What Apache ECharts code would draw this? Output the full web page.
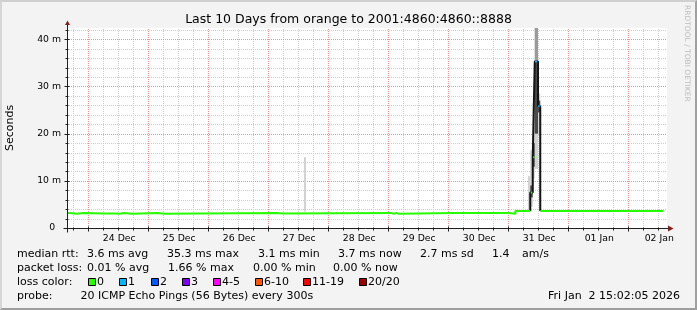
<!DOCTYPE html>
<html>
<head>
<meta charset="utf-8">
<script src="https://cdn.jsdelivr.net/npm/echarts@6.0.0/dist/echarts.min.js"></script>
<style>
  html, body { margin: 0; padding: 0; background: #f3f3f3; }
  #wrap { position: relative; width: 697px; height: 310px; }
  #chart { position: absolute; left: 0; top: 0; width: 697px; height: 310px; }
  #frame { position: absolute; left: 0; top: 0; width: 697px; height: 310px; box-sizing: border-box;
           border-top: 2px solid #cfcfcf; border-left: 2px solid #d6d6d6;
           border-right: 2px solid #a0a0a0; border-bottom: 2px solid #9e9e9e; pointer-events: none; }
</style>
</head>
<body>
<div id="wrap"><div id="chart"></div><div id="frame"></div></div>
<script>
// ---------- data (hours are counted from 24 Dec 00:00; values in ms) ----------
const dayLabels   = ['24 Dec','25 Dec','26 Dec','27 Dec','28 Dec','29 Dec','30 Dec','31 Dec','01 Jan','02 Jan'];
const labelHours  = [12, 36, 60, 84, 108, 132, 156, 180, 204, 228];
const majorXHours = [0, 24, 48, 72, 96, 120, 144, 168, 192, 216];
const minorXHours = [-6, 6, 12, 18, 30, 36, 42, 54, 60, 66, 78, 84, 90, 102, 108, 114, 126, 132, 138,
                     150, 156, 162, 174, 180, 186, 198, 204, 210, 222, 228];
const yTicks      = [0, 10, 20, 30, 40];
const yLabels     = ['0  ', '10 m', '20 m', '30 m', '40 m'];
const yMinor      = [2, 4, 6, 8, 12, 14, 16, 18, 22, 24, 26, 28, 32, 34, 36, 38, 42];

// median rtt (step line), [hour, ms]
const medianBefore = [
  [-8.5, 3.2], [-7.5, 3.0], [-4.8, 3.2], [-1.9, 3.05], [6.1, 3.1], [10.8, 3.0], [12.5, 3.2],
  [14.4, 3.0], [17.1, 3.2], [27.5, 3.0], [30.4, 3.2], [75.5, 3.1], [77.5, 3.2],
  [121.2, 3.0], [122.2, 3.2], [123.2, 3.0], [124.2, 3.2], [146.6, 3.1], [147.4, 3.2],
  [168.0, 3.0], [170.8, 3.6], [176.8, 3.6]
];
const medianSpike = [[176.8, 3.6], [176.8, 7.5], [177.8, 15.0], [178.6, 35.3], [179.9, 25.8], [180.8, 3.6]];
const medianAfter = [
  [180.8, 3.6], [192.4, 3.45], [193.2, 3.6], [197.3, 3.45], [198.0, 3.6], [206.6, 3.45], [207.3, 3.6], [230.0, 3.6]
];
// loss-coloured median pieces in the spike: [startHour, ms, endHour, lossIndex]
const lossMarks = [[177.0, 7.5, 177.6, 0], [178.0, 15.0, 178.5, 0], [178.7, 35.3, 179.5, 1], [179.95, 25.8, 180.6, 1]];
// smoke (ping spread): [startHour, lowMs, endHour, highMs]
const smokeLight = [
  [175.9, 3.8, 176.8, 11.0], [176.8, 4.5, 177.8, 16.5], [177.8, 10.5, 178.6, 26.5],
  [178.6, 12.5, 179.9, 42.4], [179.9, 19.5, 180.8, 28.5], [86.3, 3.5, 87.1, 15.0]
];
const smokeMid  = [[178.6, 35.3, 179.9, 42.4]];
const smokeDark = [[176.8, 6.5, 177.8, 9.0], [177.8, 13.0, 178.6, 18.0], [178.6, 20.0, 179.9, 35.3], [179.9, 24.5, 180.8, 27.0]];

// legend texts
const lossLabels = ['0', '1', '2', '3', '4-5', '6-10', '11-19', '20/20'];
const lossColors = ['#26ff00', '#00b8ff', '#0059ff', '#7e00ff', '#ff00ff', '#ff5500', '#ff0000', '#a10000'];
const rttStats  = ['3.6 ms avg', '35.3 ms max', '3.1 ms min', '3.7 ms now', '2.7 ms sd', '1.4', 'am/s'];
const lossStats = ['0.01 % avg', '1.66 % max', '0.00 % min', '0.00 % now'];
const probeText = '20 ICMP Echo Pings (56 Bytes) every 300s';
const stampText = 'Fri Jan  2 15:02:05 2026';

// ---------- axis extents ----------
const X_MIN = -8.5, X_MAX = 231.5, Y_MAX = 42.4;
const FONT = '"DejaVu Sans", sans-serif';

function gridLine(vertical, color) {
  return function (params, api) {
    const v = api.value(vertical ? 0 : 1);
    const a = vertical ? api.coord([v, 0]) : api.coord([X_MIN, v]);
    const b = vertical ? api.coord([v, Y_MAX]) : api.coord([X_MAX, v]);
    let shape;
    if (vertical) { const x = Math.round(a[0]) + 0.5; shape = { x1: x, y1: a[1], x2: x, y2: b[1] }; }
    else { const y = Math.round(a[1]) + 0.5; shape = { x1: a[0], y1: y, x2: b[0], y2: y }; }
    return { type: 'line', shape, style: { stroke: color, lineWidth: 1, lineDash: [1, 1] }, silent: true };
  };
}
function rectItem(color) {
  return function (params, api) {
    const p0 = api.coord([api.value(0), api.value(3)]);
    const p1 = api.coord([api.value(2), api.value(1)]);
    return { type: 'rect', shape: { x: p0[0], y: p0[1], width: p1[0] - p0[0], height: p1[1] - p0[1] },
             style: { fill: color }, silent: true };
  };
}

const graphics = [];
function txt(x, y, text, extra) {
  graphics.push(Object.assign({ type: 'text', x, y, silent: true,
    style: { text, font: '11px ' + FONT, fill: '#000', align: 'left', verticalAlign: 'middle' } }, extra || {}));
}
// y name and watermark
graphics.push({ type: 'text', x: 10, y: 128, rotation: Math.PI / 2, silent: true,
  style: { text: 'Seconds', font: '11px ' + FONT, fill: '#000', align: 'center', verticalAlign: 'middle' } });
graphics.push({ type: 'text', x: 687, y: 5, rotation: -Math.PI / 2, silent: true,
  style: { text: 'RRDTOOL / TOBI OETIKER', font: '7.5px ' + FONT, fill: '#bdbdbd', align: 'left', verticalAlign: 'middle' } });
// legend rows
const rttX = [87, 167, 258, 338, 420, 492, 522];
const lossX = [87, 168, 253, 333];
const boxX = [88.3, 119.3, 150.7, 181.7, 212.7, 255, 303.3, 359.3];
txt(17, 254.2, 'median rtt:');
rttStats.forEach((s, i) => txt(rttX[i], 254.2, s));
txt(17, 268.2, 'packet loss:');
lossStats.forEach((s, i) => txt(lossX[i], 268.2, s));
txt(17, 282.2, 'loss color:');
lossLabels.forEach((s, i) => {
  graphics.push({ type: 'rect', silent: true, shape: { x: Math.round(boxX[i]) + 0.5, y: 278.5, width: 7, height: 7 },
    style: { fill: lossColors[i], stroke: '#000', lineWidth: 1 } });
  txt(Math.round(boxX[i]) + 9, 282.2, s);
});
txt(17, 296.2, 'probe:');
txt(80.5, 296.2, probeText);
graphics.push({ type: 'text', x: 680, y: 296.2, silent: true,
  style: { text: stampText, font: '11px ' + FONT, fill: '#000', align: 'right', verticalAlign: 'middle' } });

const chart = echarts.init(document.getElementById('chart'), null, { renderer: 'canvas' });
chart.setOption({
  animation: false,
  backgroundColor: 'transparent',
  textStyle: { fontFamily: FONT },
  title: { text: 'Last 10 Days from orange to 2001:4860:4860::8888', left: 'center', top: 13.5, padding: 0,
           textStyle: { fontSize: 12.5, fontWeight: 'normal', color: '#000', fontFamily: FONT } },
  grid: { left: 67, right: 30, top: 28, bottom: 82, show: true, backgroundColor: '#ffffff', borderWidth: 0 },
  xAxis: { type: 'value', min: X_MIN, max: X_MAX, axisLine: { show: false }, axisTick: { show: false },
           splitLine: { show: false },
           axisLabel: { customValues: labelHours, formatter: v => dayLabels[labelHours.indexOf(v)],
                        fontSize: 9.3, color: '#000', margin: 6, padding: [0, 0, 0, 2], fontFamily: FONT } },
  yAxis: { type: 'value', min: 0, max: Y_MAX, axisLine: { show: false }, axisTick: { show: false },
           splitLine: { show: false },
           axisLabel: { customValues: yTicks, formatter: v => yLabels[yTicks.indexOf(v)],
                        fontSize: 9.3, color: '#000', margin: 6, fontFamily: FONT } },
  graphic: graphics,
  series: [
    { type: 'custom', z: 1, silent: true, clip: false, renderItem: gridLine(true, '#cdcdcd'),
      data: minorXHours.map(h => [h, 0]), encode: { x: 0, y: 1 } },
    { type: 'custom', z: 1, silent: true, clip: false, renderItem: gridLine(false, '#cdcdcd'),
      data: yMinor.map(v => [X_MIN, v]), encode: { x: 0, y: 1 } },
    { type: 'custom', z: 1, silent: true, clip: false, renderItem: gridLine(true, '#eb9595'),
      data: majorXHours.map(h => [h, 0]), encode: { x: 0, y: 1 } },
    { type: 'custom', z: 1, silent: true, clip: false, renderItem: gridLine(false, '#eb9595'),
      data: yTicks.filter(v => v > 0).map(v => [X_MIN, v]), encode: { x: 0, y: 1 } },
    { type: 'custom', z: 2, silent: true, clip: true, renderItem: rectItem('#d2d2d2'),
      data: smokeLight, encode: { x: [0, 2], y: [1, 3] } },
    { type: 'custom', z: 2, silent: true, clip: true, renderItem: rectItem('#9a9a9a'),
      data: smokeMid, encode: { x: [0, 2], y: [1, 3] } },
    { type: 'custom', z: 2, silent: true, clip: true, renderItem: rectItem('#4a4a4a'),
      data: smokeDark, encode: { x: [0, 2], y: [1, 3] } },
    { type: 'line', z: 3, step: 'end', showSymbol: false, silent: true, data: medianSpike,
      lineStyle: { color: '#151515', width: 2 } },
    { type: 'line', z: 4, step: 'end', showSymbol: false, silent: true, data: medianBefore,
      lineStyle: { color: lossColors[0], width: 2 } },
    { type: 'line', z: 4, step: 'end', showSymbol: false, silent: true, data: medianAfter,
      lineStyle: { color: lossColors[0], width: 2 } },
    { type: 'custom', z: 5, silent: true, clip: false, encode: { x: [0, 2], y: 1 }, data: lossMarks,
      renderItem: function (params, api) {
        const a = api.coord([api.value(0), api.value(1)]);
        const b = api.coord([api.value(2), api.value(1)]);
        return { type: 'line', shape: { x1: a[0], y1: a[1], x2: b[0], y2: b[1] },
                 style: { stroke: lossColors[api.value(3)], lineWidth: 2 } };
      } },
    // axes with arrows and ticks
    { type: 'custom', z: 6, silent: true, clip: false, data: [[X_MIN, 0]], encode: { x: 0, y: 1 },
      renderItem: function (params, api) {
        const o = api.coord([X_MIN, 0]);
        const xe = api.coord([X_MAX, 0]);
        const ye = api.coord([X_MIN, Y_MAX]);
        const ox = Math.round(o[0]) + 0.5, oy = Math.round(o[1]) + 0.5;
        const ex = Math.round(xe[0]), ey = Math.round(ye[1]);
        const st = { stroke: '#1f1f1f', lineWidth: 1 };
        const ch = [];
        ch.push({ type: 'line', shape: { x1: ox - 4, y1: oy, x2: ex + 1, y2: oy }, style: st });
        ch.push({ type: 'line', shape: { x1: ox, y1: oy + 4, x2: ox, y2: ey - 3 }, style: st });
        ch.push({ type: 'polygon', shape: { points: [[ex + 1, oy - 3], [ex + 6.5, oy], [ex + 1, oy + 3]] }, style: { fill: '#801f1f' } });
        ch.push({ type: 'polygon', shape: { points: [[ox - 2.5, ey - 3], [ox, ey - 7.5], [ox + 2.5, ey - 3]] }, style: { fill: '#801f1f' } });
        majorXHours.forEach(h => { const x = Math.round(api.coord([h, 0])[0]) + 0.5;
          ch.push({ type: 'line', shape: { x1: x, y1: oy - 2, x2: x, y2: oy + 3 }, style: st }); });
        minorXHours.forEach(h => { const x = Math.round(api.coord([h, 0])[0]) + 0.5;
          ch.push({ type: 'line', shape: { x1: x, y1: oy - 1, x2: x, y2: oy + 2 }, style: st }); });
        yTicks.forEach(v => { const y = Math.round(api.coord([X_MIN, v])[1]) + 0.5;
          ch.push({ type: 'line', shape: { x1: ox - 3, y1: y, x2: ox + 2, y2: y }, style: st }); });
        yMinor.forEach(v => { const y = Math.round(api.coord([X_MIN, v])[1]) + 0.5;
          ch.push({ type: 'line', shape: { x1: ox - 2, y1: y, x2: ox + 1, y2: y }, style: st }); });
        return { type: 'group', children: ch };
      } }
  ]
});
</script>
</body>
</html>
